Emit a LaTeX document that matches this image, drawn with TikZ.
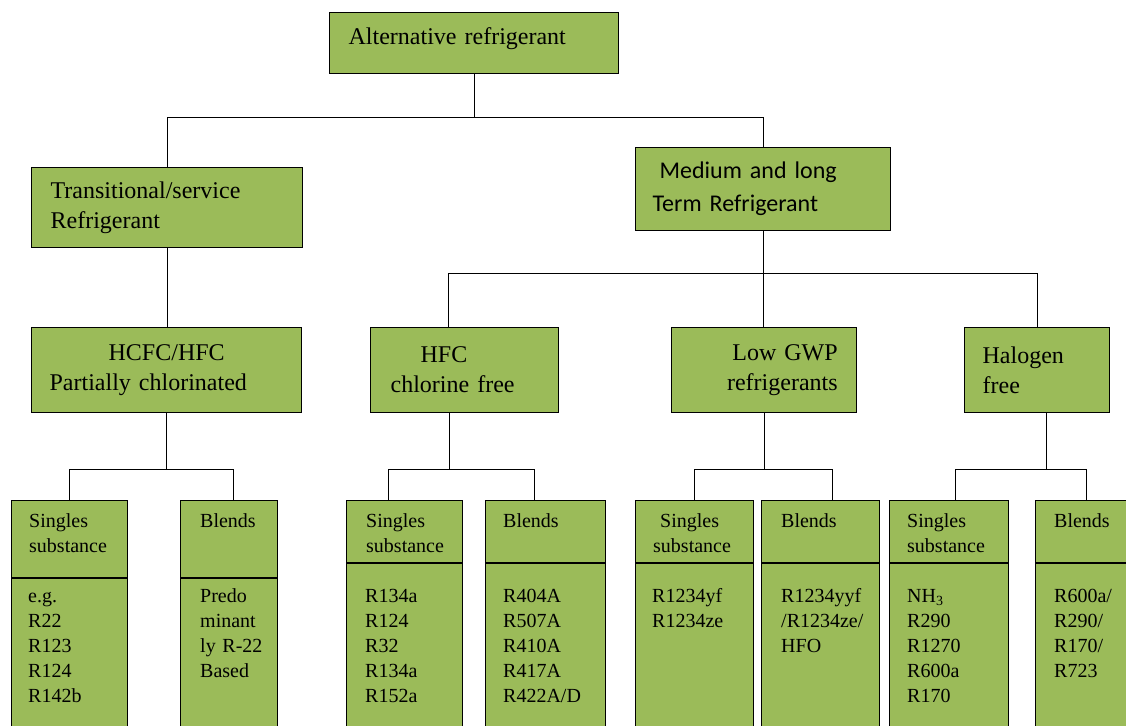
\documentclass[tikz,border=0pt]{standalone}
\usepackage{fontspec}
\setmainfont{Liberation Serif}
\newfontfamily\calibfont{Carlito}
\definecolor{boxgreen}{RGB}{155,187,89}
\tikzset{
  box/.style={draw, line width=1.3pt, fill=boxgreen, anchor=north west, inner ysep=0pt, align=left, font=\fontsize{24}{30}\selectfont},
  leaf/.style={draw, line width=1.3pt, fill=boxgreen, anchor=north west, minimum height=240pt, inner sep=0pt},
  leaftext/.style={anchor=base west, inner sep=0pt, align=left, text width=95pt, font=\fontsize{20}{25}\selectfont},
  link/.style={line width=1.3pt}
}
\begin{document}
\begin{tikzpicture}[x=1pt, y=-1pt]
    \useasboundingbox (0,0) rectangle (1126,725);
    \clip (0,0) rectangle (1126,725);
    \node[box, minimum width=289pt, minimum height=61pt, inner xsep=19pt, text width=251pt] (alt) at (329,12) {\raisebox{5pt}[\height][\depth]{Alternative refrigerant}};
    \node[box, minimum width=271pt, minimum height=80pt, inner xsep=19pt, text width=233pt] (trans) at (31,167) {Transitional/service\\Refrigerant};
    \node[box, minimum width=255pt, minimum height=83pt, inner xsep=17pt, text width=221pt, font=\calibfont\fontsize{24}{33}\selectfont] (med) at (635,147) {\hspace*{7pt}Medium and long\\Term Refrigerant};
    \node[box, minimum width=270pt, minimum height=85pt, inner xsep=18pt, text width=234pt] (hcfc) at (31,327) {\hspace*{59pt}HCFC/HFC\\Partially chlorinated};
    \node[box, minimum width=188pt, minimum height=85pt, inner xsep=20pt, text width=148pt] (hfc) at (370,327) {\hspace*{30pt}HFC\\chlorine free};
    \node[box, minimum width=185pt, minimum height=85pt, inner xsep=19pt, text width=147pt, align=right] (gwp) at (671,327) {Low GWP\\refrigerants};
    \node[box, minimum width=145pt, minimum height=85pt, inner xsep=18pt, text width=109pt] (halo) at (964,327) {Halogen\\free};

    \node[leaf, minimum width=116pt] (ss1) at (11,500) {};
    \node[leaf, minimum width=97pt] (bl1) at (180,500) {};
    \node[leaf, minimum width=116pt] (ss2) at (346,500) {};
    \node[leaf, minimum width=120pt] (bl2) at (485,500) {};
    \node[leaf, minimum width=118pt] (ss3) at (635,500) {};
    \node[leaf, minimum width=118pt] (bl3) at (761,500) {};
    \node[leaf, minimum width=119pt] (ss4) at (889,500) {};
    \node[leaf, minimum width=110pt] (bl4) at (1035,500) {};
    \foreach \n/\d in {ss1/78, bl1/78, ss2/63, bl2/63, ss3/63, bl3/63, ss4/63, bl4/63}
        \draw[link] ([yshift=-\d pt]\n.north west) -- ([yshift=-\d pt]\n.north east);

    \node[leaftext] (ss1h) at (29,527) {Singles\\substance};
    \node[leaftext] (ss1b) at (28,602) {e.g.\\R22\\R123\\R124\\R142b};
    \node[leaftext] (bl1h) at (200,527) {Blends};
    \node[leaftext] (bl1b) at (200,602) {Predo\\minant\\ly R-22\\Based};
    \node[leaftext] (ss2h) at (366,527) {Singles\\substance};
    \node[leaftext] (ss2b) at (365,602) {R134a\\R124\\R32\\R134a\\R152a};
    \node[leaftext] (bl2h) at (503,527) {Blends};
    \node[leaftext] (bl2b) at (503,602) {R404A\\R507A\\R410A\\R417A\\R422A/D};
    \node[leaftext] (ss3h) at (653,527) {\hspace*{7pt}Singles\\substance};
    \node[leaftext] (ss3b) at (652,602) {R1234yf\\R1234ze};
    \node[leaftext] (bl3h) at (781,527) {Blends};
    \node[leaftext] (bl3b) at (781,602) {R1234yyf\\/R1234ze/\\HFO};
    \node[leaftext] (ss4h) at (907,527) {Singles\\substance};
    \node[leaftext] (ss4b) at (907,602) {NH\textsubscript{3}\\R290\\R1270\\R600a\\R170};
    \node[leaftext] (bl4h) at (1054,527) {Blends};
    \node[leaftext] (bl4b) at (1054,602) {R600a/\\R290/\\R170/\\R723};

    \draw[link] (alt.south) -- ++(0,43) coordinate (j0);
    \draw[link] (trans.north) |- (j0) -| (med.north);
    \draw[link] (trans.south) -- (trans.south |- hcfc.north);
    \draw[link] (med.south) -- ++(0,42) coordinate (j1);
    \draw[link] ([xshift=-16pt]hfc.north) |- (j1) -| (halo.north);
    \draw[link] (j1) -- (j1 |- gwp.north);
    \draw[link] (hcfc.south) -- ++(0,56) coordinate (j2);
    \draw[link] (ss1.north) |- (j2) -| ([xshift=4pt]bl1.north);
    \draw[link] ([xshift=-15pt]hfc.south) -- ++(0,56) coordinate (j3);
    \draw[link] ([xshift=-16pt]ss2.north) |- (j3) -| ([xshift=-11pt]bl2.north);
    \draw[link] (gwp.south) -- ++(0,56) coordinate (j4);
    \draw[link] (ss3.north) |- (j4) -| ([xshift=12pt]bl3.north);
    \draw[link] ([xshift=9pt]halo.south) -- ++(0,56) coordinate (j5);
    \draw[link] ([xshift=6pt]ss4.north) |- (j5) -| ([xshift=-4pt]bl4.north);
\end{tikzpicture}
\end{document}
